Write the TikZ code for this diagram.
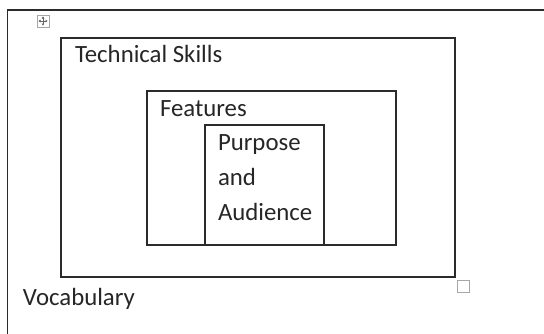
\documentclass[tikz,border=0pt]{standalone}
\usepackage{fontspec}
\setmainfont{Carlito}
\usetikzlibrary{arrows.meta}
\definecolor{ink}{HTML}{262626}
\definecolor{rule}{HTML}{2B2B2B}
\definecolor{handle}{HTML}{A6A6A6}
\begin{document}
\begin{tikzpicture}[x=1pt,y=-1pt,
  box/.style={draw=rule, line width=1.3pt, rectangle, inner sep=0pt, outer sep=0pt},
  lbl/.style={inner sep=0pt, outer sep=0pt, text=ink, font=\fontsize{24.8}{35}\selectfont, anchor=base west},
  grip/.style={draw=handle, line width=1pt, rectangle, inner sep=0pt, fill=white}]
  \useasboundingbox (0,0) rectangle (544,333);
  \fill[white] (0,0) rectangle (544,333);
  \clip (0,0) rectangle (544,333);

  % outer frame, running off the page to the right and bottom
  \node[box, minimum width=560pt, minimum height=340pt] (outer) at (287.5,180) {};
  \node[lbl] (vocab) at (23,305) {Vocabulary};

  % Technical Skills frame
  \node[box, minimum width=394pt, minimum height=239pt] (tech) at (258,157.5) {};
  \node[lbl] (techl) at (75,62) {Technical Skills};

  % Features frame
  \node[box, minimum width=249pt, minimum height=154pt] (feat) at (271.5,168) {};
  \node[lbl] (featl) at (160,116) {Features};

  % Purpose and Audience frame
  \node[box, minimum width=119pt, minimum height=120pt] (purp) at (264.5,185) {};
  \draw[rule, line width=2.4pt] (purp.south west) -- (purp.south east);
  \node[lbl] (purp1) at (218,150) {Purpose};
  \node[lbl] (purp2) at (218,185) {and};
  \node[lbl] (purp3) at (218,220) {Audience};

  % move handle with four-way arrow
  \node[grip, minimum size=12pt] (move) at (43,21) {};
  \draw[handle!60!black, line width=0.7pt, {Triangle[length=2pt,width=2.6pt]}-{Triangle[length=2pt,width=2.6pt]}]
    ([xshift=2pt]move.west) -- ([xshift=-2pt]move.east);
  \draw[handle!60!black, line width=0.7pt, {Triangle[length=2pt,width=2.6pt]}-{Triangle[length=2pt,width=2.6pt]}]
    ([yshift=-2pt]move.north) -- ([yshift=2pt]move.south);

  % resize handle
  \node[grip, minimum size=12pt] (resize) at (463.5,286.5) {};
\end{tikzpicture}
\end{document}
